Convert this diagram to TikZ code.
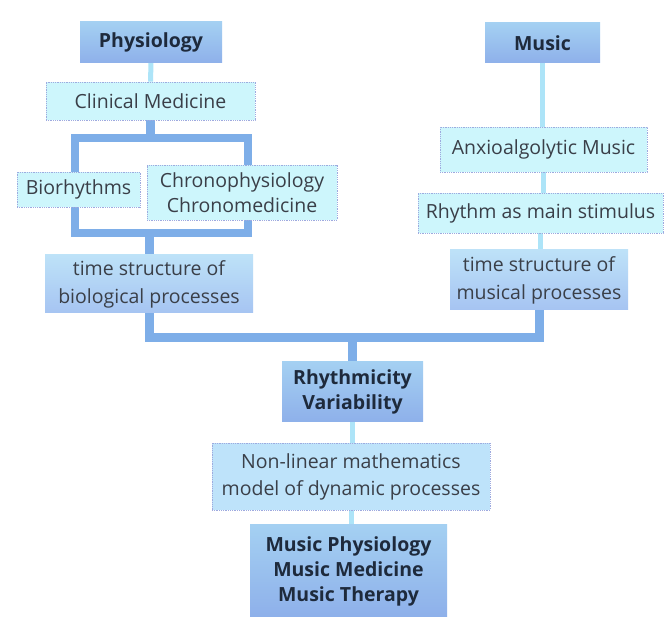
\documentclass[tikz,border=0pt]{standalone}
\usepackage{fontspec}
\setmainfont{Open Sans}
\usetikzlibrary{backgrounds}
\definecolor{dkfill}{HTML}{8EB0EA}
\definecolor{dktop}{HTML}{A4D0F2}
\definecolor{mdfill}{HTML}{A6C4F2}
\definecolor{ltfill}{HTML}{CDF6FC}
\definecolor{nlfill}{HTML}{BEE3FA}
\definecolor{ltborder}{HTML}{9EAADF}
\definecolor{barcol}{HTML}{7EAEE8}
\definecolor{thincol}{HTML}{ADE4F8}
\definecolor{txtdark}{HTML}{1E2A3C}
\definecolor{txtgray}{HTML}{3A3F48}
\tikzset{
  darkbox/.style={draw=none, top color=dktop, bottom color=dkfill, text=txtdark,
    font=\fontsize{19.5}{25}\selectfont\bfseries, align=center, inner sep=0pt},
  midbox/.style={draw=none, top color=ltfill!60!mdfill, bottom color=mdfill, text=txtgray,
    font=\fontsize{19.5}{28}\selectfont, align=center, inner sep=0pt},
  lightbox/.style={draw=ltborder, densely dotted, line width=0.8pt, fill=ltfill, text=txtgray,
    font=\fontsize{19.5}{25}\selectfont, align=center, inner sep=0pt},
  nlbox/.style={draw=ltborder, densely dotted, line width=0.8pt, fill=nlfill, text=txtgray,
    font=\fontsize{19.5}{27}\selectfont, align=center, inner sep=0pt},
  thickconn/.style={draw=barcol, line width=9pt},
  thinconn/.style={draw=thincol, line width=5pt},
}
\begin{document}
\begin{tikzpicture}[x=1pt,y=-1pt]
\useasboundingbox (0,0) rectangle (665,617);
% nodes
\node[darkbox, minimum width=142pt, minimum height=41pt] (phys) at (151,42.5) {Physiology};
\node[lightbox, minimum width=209pt, minimum height=38pt] (clin) at (150.5,101) {Clinical Medicine};
\node[lightbox, minimum width=123pt, minimum height=35pt] (bio) at (78.5,189.5) {Biorhythms};
\node[lightbox, minimum width=190pt, minimum height=55pt] (chrono) at (242,192.5) {Chronophysiology\\Chronomedicine};
\node[midbox, minimum width=208pt, minimum height=58pt] (tbio) at (149,284) {time structure of\\biological processes};
\node[darkbox, minimum width=115pt, minimum height=40pt] (music) at (542.5,43) {Music};
\node[lightbox, minimum width=207pt, minimum height=45pt] (anx) at (543.5,149.5) {Anxioalgolytic Music};
\node[lightbox, minimum width=245pt, minimum height=40pt] (rhy) at (540.5,213) {Rhythm as main stimulus};
\node[midbox, minimum width=178pt, minimum height=60pt] (tmus) at (539,280) {time structure of\\musical processes};
\node[darkbox, minimum width=141pt, minimum height=60pt] (rv) at (352.5,392) {Rhythmicity\\Variability};
\node[nlbox, minimum width=278pt, minimum height=67pt] (nl) at (351,476.5) {Non-linear mathematics\\model of dynamic processes};
\node[darkbox, minimum width=197pt, minimum height=92pt] (mp) at (348.5,571) {Music Physiology\\Music Medicine\\Music Therapy};
\coordinate (ftl) at (75,138);
\coordinate (fbr) at (248,233);
\coordinate (bar) at (352.5,338);
% connectors
\begin{scope}[on background layer]
\fill[white] (0,0) rectangle (665,617);
\draw[thinconn] (phys.south) -- (clin.north);
\draw[thickconn] (clin.south) -- (clin.south |- ftl);
\draw[thickconn, line width=8pt] (ftl) rectangle (fbr);
\draw[thickconn] (tbio.north |- fbr) -- (tbio.north);
\draw[thickconn, line cap=rect] (tbio.south) |- (bar) -| (tmus.south);
\draw[thickconn] (bar) -- (rv.north);
\draw[thinconn] (music.south) -- (music.south |- anx.north);
\draw[thinconn] (anx.south) -- (anx.south |- rhy.north);
\draw[thinconn] (rhy.south) -- (rhy.south |- tmus.north);
\draw[thinconn] (rv.south) -- (rv.south |- nl.north);
\draw[thinconn] (nl.south) -- (nl.south |- mp.north);
\end{scope}
\end{tikzpicture}
\end{document}
